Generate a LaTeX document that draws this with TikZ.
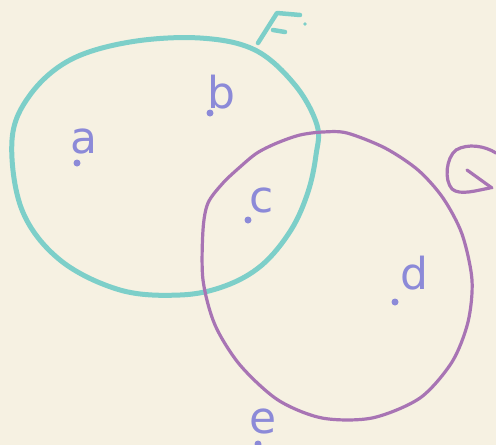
\documentclass[tikz,border=0pt]{standalone}
\usepackage{fontspec}
\setmainfont{DejaVu Sans}
\definecolor{paper}{HTML}{F6F1E2}
\definecolor{teal}{HTML}{7DCFC9}
\definecolor{plum}{HTML}{A874B4}
\definecolor{ink}{HTML}{8C8AD8}
\tikzset{
  setF/.style={draw=teal, line width=5pt, line cap=round, line join=round},
  setG/.style={draw=plum, line width=3.2pt, line cap=round, line join=round},
  elem/.style={text=ink, font=\fontsize{44}{44}\selectfont, inner sep=0pt, anchor=base},
  pt/.style={fill=ink, circle, inner sep=0pt, minimum size=7pt}
}
\begin{document}
\begin{tikzpicture}[x=1pt,y=-1pt]
\useasboundingbox (0,0) rectangle (496,445);
\fill[paper] (0,0) rectangle (496,445);
% set F
\draw[setF] plot[smooth cycle, tension=0.6] coordinates {
 (12,140) (30,95) (70,60) (130,42) (200,38) (255,50) (295,85) (317,125)
 (316,155) (308,192) (291,230) (262,265) (225,286) (180,295) (120,290)
 (60,260) (22,210)};
% label F
\draw[setF, line width=4.5pt] (258,43) -- (277,13) -- (300,15);
\draw[setF, line width=4.5pt] (273,30) -- (285,32);
\fill[teal] (305,24) circle (1.8pt);
% set G
\draw[setG] plot[smooth cycle, tension=0.5] coordinates {
 (203,280) (203,230) (208,203) (223,183) (240,167) (257,153) (277,143)
 (300,135) (323,132) (347,133) (385,148) (418,170) (443,198) (462,234)
 (472,280) (468,322) (452,362) (420,398) (372,418) (322,418) (278,400)
 (240,365) (215,325)};
% label G
\draw[setG] (496,153) .. controls (485,146) and (468,143) .. (456,150)
  .. controls (446,158) and (444,180) .. (452,189)
  .. controls (460,196) and (478,190) .. (490,188);
\draw[setG] (467,170) -- (492,188);
% elements
\node[elem] (a) at (84,153) {a}; \node[pt] (pa) at (77,163) {};
\node[elem] (b) at (221,108) {b}; \node[pt] (pb) at (210,113) {};
\node[elem] (c) at (262,212) {c}; \node[pt] (pc) at (248,220) {};
\node[elem] (d) at (414,289) {d}; \node[pt] (pd) at (395,302) {};
\node[elem] (e) at (263,433) {e}; \node[pt] (pe) at (258,444) {};
\end{tikzpicture}
\end{document}
